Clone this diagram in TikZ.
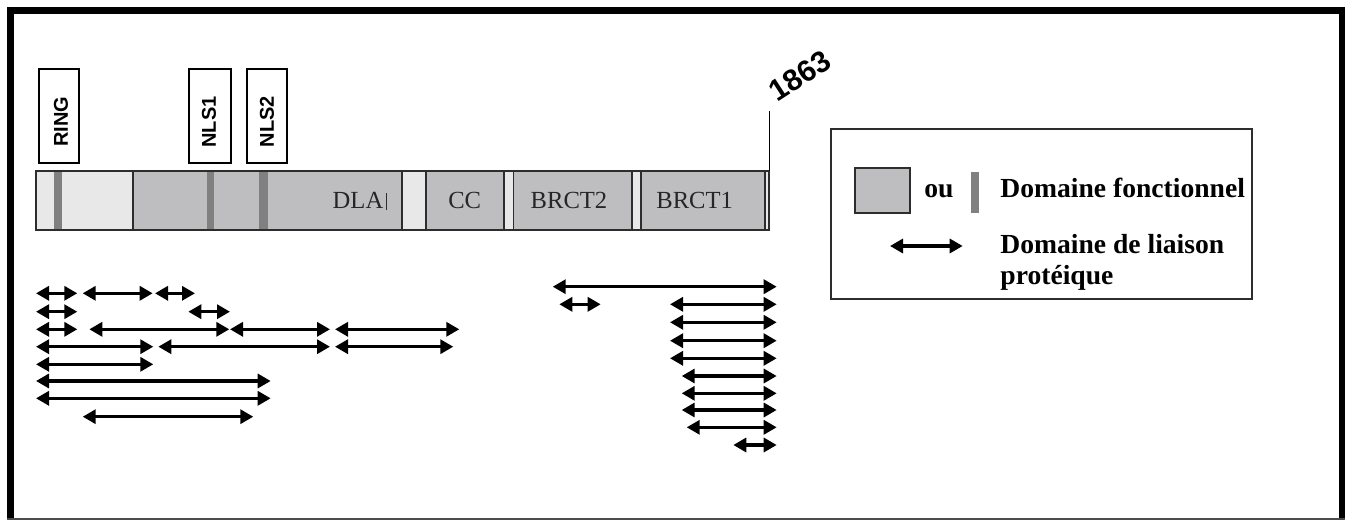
\documentclass[tikz,border=0pt]{standalone}
\usepackage{fontspec}
\setmainfont{Liberation Serif}
\newfontfamily\arialfont{Liberation Sans}
\usetikzlibrary{arrows.meta}
\definecolor{segdark}{RGB}{190,189,191}
\definecolor{seglight}{RGB}{232,232,232}
\definecolor{stripe}{RGB}{128,128,128}
\definecolor{edge}{RGB}{45,45,45}
\tikzset{
  arr/.style={line width=1.6pt, {Triangle[length=6.5pt,width=7pt]}-{Triangle[length=6.5pt,width=7pt]}},
  tagbox/.style={draw=black, line width=1pt, fill=white, minimum height=47pt, inner sep=0pt},
  tagtext/.style={font=\arialfont\bfseries\fontsize{10}{11}\selectfont, rotate=90, inner sep=0pt},
  seglabel/.style={font=\fontsize{12.3}{14}\selectfont, anchor=base, inner sep=0pt, text=black!85},
  legtext/.style={font=\bfseries\fontsize{13.8}{16}\selectfont, anchor=base west, inner sep=0pt},
  segL/.style={fill=seglight},
  segD/.style={fill=segdark},
}
\begin{document}
\begin{tikzpicture}[x=0.5pt,y=-0.5pt]
\useasboundingbox (0,0) rectangle (1349,520);
\fill[white] (0,0) rectangle (1349,520);
% frame
\draw[line width=3.3pt, line join=miter] (10.3,519) -- (10.3,10.5) -- (1341.8,10.5) -- (1341.8,519);
\draw[line width=0.9pt, black!70] (7,518.6) -- (1345,518.6);

% tag boxes
\node[tagbox, minimum width=20pt] (ringbox) at (59.3,116) {};
\node[tagbox, minimum width=20.8pt] (nls1box) at (209.9,116) {};
\node[tagbox, minimum width=20pt] (nls2box) at (266.7,116) {};
\node[tagtext] (ring) at (61,121.5) {RING};
\node[tagtext] (nls1) at (209,122) {NLS1};
\node[tagtext] (nls2) at (267,121.5) {NLS2};

% bar segments (fills)
\fill[segL] (36,170.7) rectangle (133.3,230);
\fill[segD] (133.3,170.7) rectangle (401.7,230);
\fill[segL] (401.7,170.7) rectangle (426,230);
\fill[segD] (426,170.7) rectangle (504.3,230);
\fill[segL] (504.3,170.7) rectangle (513.5,230);
\fill[segD] (513.5,170.7) rectangle (631.7,230);
\fill[segL] (631.7,170.7) rectangle (640.7,230);
\fill[segD] (640.7,170.7) rectangle (765,230);
\fill[segL] (765,170.7) rectangle (769.3,230);
% stripes
\fill[stripe] (54,170.7) rectangle (62,230);
\fill[stripe] (206.7,170.7) rectangle (214,230);
\fill[stripe] (259.3,170.7) rectangle (268.3,230);
% borders
\draw[edge, line width=0.9pt] (36,170.7) rectangle (769.3,230);
\foreach \xx in {133.3,401.7,426,504.3,513.5,631.7,640.7,765}
  \draw[edge, line width=0.9pt] (\xx,170.7) -- (\xx,230);

% segment labels
\node[seglabel] (dla) at (358,208.5) {DLA};
\draw[edge, line width=0.6pt] (386.7,193) -- (386.7,209.5);
\node[seglabel] (cc) at (464.7,208.5) {CC};
\node[seglabel] (brct2) at (569,208.5) {BRCT2};
\node[seglabel] (brct1) at (694.7,208.5) {BRCT1};

% end marker
\coordinate (endtop) at (769.3,111);
\coordinate (endbar) at (769.3,170.7);
\draw[black, line width=0.8pt] (endtop) -- (endbar);
\node[font=\arialfont\bfseries\fontsize{15}{17}\selectfont, rotate=33, inner sep=0pt] (n1863) at (800,76) {1863};

% legend
\node[draw=edge, line width=1pt, minimum width=210.6pt, minimum height=85.2pt, inner sep=0pt] (legend) at (1041.35,214.15) {};
\draw[edge, line width=0.9pt, fill=segdark] (855,168.3) rectangle (910,213.3);
\node[legtext] (ou) at (924,197.3) {ou};
\fill[stripe] (970.7,171.7) rectangle (979.3,213.3);
\node[legtext] (lf) at (1000,197.3) {Domaine fonctionnel};
\coordinate (la) at (890,246);
\coordinate (lb) at (962.7,246);
\draw[arr] (la) -- (lb);
\node[legtext] (ll1) at (1000,253.3) {Domaine de liaison};
\node[legtext] (ll2) at (1000,284) {protéique};

% binding arrows (left group)
\foreach \yy/\xa/\xb in {
  293.3/36/77.3, 293.3/82.7/152.7, 293.3/155/195,
  311.7/36/77.3, 311.7/188.3/230,
  329.3/36/77.3, 329.3/89.3/229.3, 329.3/230/330, 329.3/335/459.3,
  346.7/36/153.3, 346.7/158.3/330, 346.7/335/453.3,
  364.3/36/153.3,
  381/36/270.7,
  398.3/36/270.7,
  416.7/82.7/253.3}
  \draw[arr] (\xa,\yy) -- (\xb,\yy);
% binding arrows (right group)
\foreach \yy/\xa/\xb in {
  286.7/552.7/776.7,
  304.3/559.3/600.7, 304.3/670/776.7,
  322.3/670/776.7, 340.7/670/776.7, 358.3/670/776.7,
  376/681.7/776.7, 393.3/681.7/776.7, 410/681.7/776.7,
  427.3/686.7/776.7,
  445/733.3/776.7}
  \draw[arr] (\xa,\yy) -- (\xb,\yy);
\end{tikzpicture}
\end{document}
